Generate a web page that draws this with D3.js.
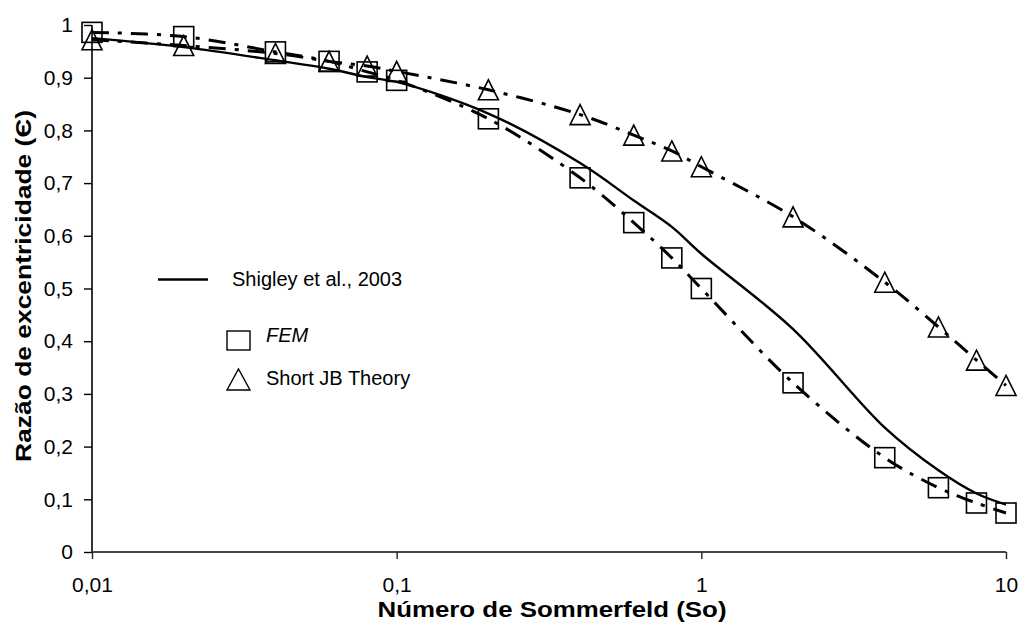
<!DOCTYPE html>
<html>
<head>
<meta charset="utf-8">
<script src="https://cdn.jsdelivr.net/npm/d3@7"></script>
<style>
  html, body { margin: 0; padding: 0; background: #fff; }
  svg { display: block; }
  text { font-family: "Liberation Sans", Arial, sans-serif; fill: #000; }
</style>
</head>
<body>
<svg id="chart" width="1029" height="628"></svg>
<script>
// ---- data ----
const soValues = [0.01, 0.02, 0.04, 0.06, 0.08, 0.1, 0.2, 0.4, 0.6, 0.8, 1, 2, 4, 6, 8, 10];
const shigley = [0.975, 0.958, 0.933, 0.917, 0.901, 0.892, 0.832, 0.738, 0.667, 0.617, 0.566, 0.423, 0.236, 0.155, 0.111, 0.090];
const fem     = [0.986, 0.978, 0.949, 0.931, 0.911, 0.895, 0.822, 0.710, 0.625, 0.558, 0.500, 0.321, 0.179, 0.122, 0.093, 0.074];
const shortJB = [0.972, 0.961, 0.946, 0.931, 0.922, 0.912, 0.877, 0.830, 0.791, 0.761, 0.731, 0.636, 0.512, 0.427, 0.364, 0.316];
const xTicks = [0.01, 0.1, 1, 10];
const xTickLabels = ["0,01", "0,1", "1", "10"];
const yTicks = [0, 0.1, 0.2, 0.3, 0.4, 0.5, 0.6, 0.7, 0.8, 0.9, 1];
const yTickLabels = ["0", "0,1", "0,2", "0,3", "0,4", "0,5", "0,6", "0,7", "0,8", "0,9", "1"];
const legendLabels = ["Shigley et al., 2003", "FEM", "Short JB Theory"];
const xTitle = "Número de Sommerfeld (So)";
const yTitle = "Razão de excentricidade (Є)";

// ---- layout ----
const svg = d3.select("#chart");
const x = d3.scaleLog().domain([0.01, 10]).range([92, 1006]);
const y = d3.scaleLinear().domain([0, 1]).range([552, 25]);

const curve = d3.curveCatmullRom.alpha(0.5);
const line = d3.line().x(d => x(d[0])).y(d => y(d[1])).curve(curve);
const zip = vals => soValues.map((s, i) => [s, vals[i]]);

// Y axis
const yAxis = d3.axisLeft(y).tickValues(yTicks).tickFormat((d, i) => yTickLabels[i]).tickSize(8).tickPadding(11);
const gy = svg.append("g").attr("transform", `translate(${x(0.01)},0)`).call(yAxis);
gy.select(".domain").attr("stroke", "#000").attr("stroke-width", 1.6).attr("d", `M0,${y(1)}V${y(0)}`);
gy.selectAll(".tick line").attr("stroke", "#000").attr("stroke-width", 1.4);
gy.selectAll(".tick text").attr("font-size", 21).attr("font-family", '"Liberation Sans", Arial, sans-serif').attr("fill", "#000");

// X axis
const xAxis = d3.axisBottom(x).tickValues(xTicks).tickFormat((d, i) => xTickLabels[i]).tickSize(7).tickPadding(20);
const gx = svg.append("g").attr("transform", `translate(0,${y(0)})`).call(xAxis);
gx.select(".domain").attr("stroke", "#444").attr("stroke-width", 2).attr("d", `M${x(0.01)},0H${x(10)}`);
gx.selectAll(".tick line").attr("stroke", "#222").attr("stroke-width", 1.4);
gx.selectAll(".tick text").attr("font-size", 21).attr("font-family", '"Liberation Sans", Arial, sans-serif').attr("fill", "#000").attr("dy", "0.62em");

// Lines
svg.append("path").datum(zip(shortJB)).attr("d", line)
  .attr("fill", "none").attr("stroke", "#000").attr("stroke-width", 3)
  .attr("stroke-dasharray", "17,9,4,9");
svg.append("path").datum(zip(fem)).attr("d", line)
  .attr("fill", "none").attr("stroke", "#000").attr("stroke-width", 3)
  .attr("stroke-dasharray", "17,9,4,9");
svg.append("path").datum(zip(shigley)).attr("d", line)
  .attr("fill", "none").attr("stroke", "#000").attr("stroke-width", 2.4);

// Markers
const sq = 20;
svg.append("g").selectAll("rect").data(zip(fem)).join("rect")
  .attr("x", d => x(d[0]) - sq / 2).attr("y", d => y(d[1]) - sq / 2)
  .attr("width", sq).attr("height", sq)
  .attr("fill", "none").attr("stroke", "#000").attr("stroke-width", 1.6);

const tri = (cx, cy, w, h) => `M${cx},${cy - h / 2}L${cx + w / 2},${cy + h / 2}L${cx - w / 2},${cy + h / 2}Z`;
svg.append("g").selectAll("path").data(zip(shortJB)).join("path")
  .attr("d", d => tri(x(d[0]), y(d[1]), 20, 20))
  .attr("fill", "none").attr("stroke", "#000").attr("stroke-width", 1.6);

// Legend
const lg = svg.append("g");
lg.append("line").attr("x1", 158).attr("x2", 208).attr("y1", 279.5).attr("y2", 279.5)
  .attr("stroke", "#000").attr("stroke-width", 2.4);
lg.append("text").attr("x", 232).attr("y", 286).attr("font-size", 20).text(legendLabels[0]);
lg.append("rect").attr("x", 227).attr("y", 331).attr("width", 23).attr("height", 19)
  .attr("fill", "none").attr("stroke", "#000").attr("stroke-width", 1.4);
lg.append("text").attr("x", 266).attr("y", 342).attr("font-size", 20).attr("font-style", "italic").text(legendLabels[1]);
lg.append("path").attr("d", tri(238.5, 379.5, 23, 21))
  .attr("fill", "none").attr("stroke", "#000").attr("stroke-width", 1.4);
lg.append("text").attr("x", 266).attr("y", 385).attr("font-size", 20).text(legendLabels[2]);

// Axis titles
svg.append("text").attr("x", 552).attr("y", 617).attr("text-anchor", "middle")
  .attr("font-size", 22).attr("font-weight", "bold")
  .attr("textLength", 349).attr("lengthAdjust", "spacingAndGlyphs").text(xTitle);
svg.append("text").attr("transform", "translate(31,286) rotate(-90)").attr("text-anchor", "middle")
  .attr("font-size", 22).attr("font-weight", "bold")
  .attr("textLength", 352).attr("lengthAdjust", "spacingAndGlyphs").text(yTitle);
</script>
</body>
</html>
